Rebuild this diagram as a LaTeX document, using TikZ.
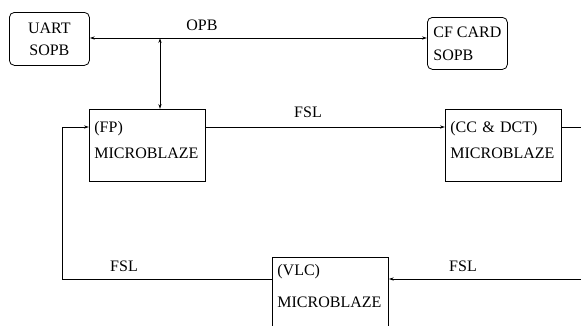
\documentclass[tikz,border=0pt]{standalone}
\usepackage{fontspec}
\setmainfont{Liberation Serif}
\usetikzlibrary{positioning,arrows.meta}

\begin{document}
\begin{tikzpicture}[x=1pt, y=-1pt, >={Stealth[length=5pt,width=3.2pt]}, line width=0.8pt, font=\fontsize{16}{19}\selectfont]
  \useasboundingbox (0,0) rectangle (581,325);
  \clip (0,0) rectangle (581,325);

  \node[draw, rounded corners=5pt, minimum width=80pt, minimum height=53pt, anchor=north west, align=center] (uart) at (9,12) {UART\\[3pt]SOPB};
  \node[draw, rounded corners=5pt, minimum width=80pt, minimum height=52pt, anchor=north west, align=left] (cf) at (427,17) {CF CARD\\[4pt]SOPB};
  \node[draw, minimum width=116pt, minimum height=72pt, text width=106pt, inner xsep=5pt, anchor=north west, align=left] (fp) at (89,109) {(FP)\\[7pt]MICROBLAZE\rule[-10pt]{0pt}{0pt}};
  \node[draw, minimum width=116pt, minimum height=72pt, text width=106pt, inner xsep=5pt, anchor=north west, align=left] (cc) at (445,109) {(CC \& DCT)\\[7pt]MICROBLAZE\rule[-10pt]{0pt}{0pt}};
  \node[draw, minimum width=116pt, minimum height=72pt, text width=106pt, inner xsep=5pt, anchor=north west, align=left] (vlc) at (272,257) {(VLC)\\[13pt]MICROBLAZE\rule[-14pt]{0pt}{0pt}};

  \coordinate (tap) at (160,38);
  \coordinate (rgt) at (600,0);
  \coordinate (lft) at (62,0);

  \draw[<->] (uart.east |- tap) -- (cf.west |- tap);
  \draw[<->] (tap) -- (tap |- fp.north);
  \draw[->] ([yshift=-18pt]fp.north east) -- ([yshift=-18pt]cc.north west);
  \draw[->] ([yshift=-18pt]cc.north east) -- ([yshift=-18pt]cc.north east -| rgt) |- ([yshift=-22pt]vlc.north east);
  \draw[->] ([yshift=-22pt]vlc.north west) -- ([yshift=-22pt]vlc.north west -| lft) |- ([yshift=-18pt]fp.north west);

  \node (opb) at (202,25) {OPB};
  \node (fsltop) at (308,112) {FSL};
  \node (fslleft) at (124,266) {FSL};
  \node (fslright) at (463,266) {FSL};
\end{tikzpicture}
\end{document}
